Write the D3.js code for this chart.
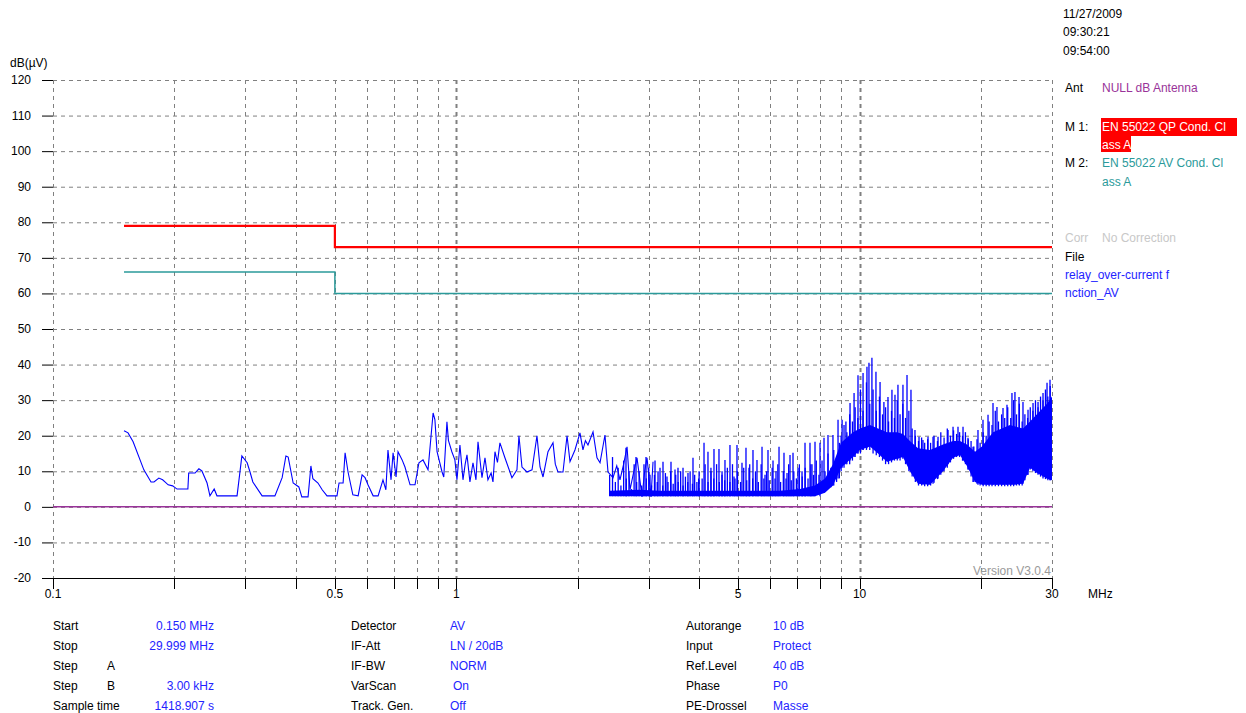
<!DOCTYPE html>
<html>
<head>
<meta charset="utf-8">
<script src="https://cdn.jsdelivr.net/npm/d3@7"></script>
<style>
  body { margin: 0; background: #fff; }
  svg text { font-family: "Liberation Sans", Arial, sans-serif; font-size: 12px; }
</style>
</head>
<body>
<div id="chart"></div>
<script>
// --- donnees ---
const yTicks = [-20, -10, 0, 10, 20, 30, 40, 50, 60, 70, 80, 90, 100, 110, 120];
const xGrid = [0.1, 0.2, 0.3, 0.4, 0.5, 0.6, 0.7, 0.8, 0.9, 1, 2, 3, 4, 5, 6, 7, 8, 9, 10, 20, 30];
const xLabels = [0.1, 0.5, 1, 5, 10, 30];

// limites EN 55022 classe A
const limitFreq = [0.15, 0.5, 0.5, 30];
const qpLevel = [79, 79, 73, 73];
const avLevel = [66, 66, 60, 60];

// trace mesuree (partie basse frequence)
const traceMHz = [0.15, 0.1535, 0.158, 0.168, 0.175, 0.178, 0.183, 0.187, 0.1895, 0.193, 0.198, 0.203, 0.216, 0.217, 0.225, 0.230, 0.234, 0.241, 0.245, 0.251, 0.255,
  0.286, 0.294, 0.303, 0.308, 0.313, 0.330, 0.355, 0.370, 0.378, 0.383, 0.394, 0.407, 0.414, 0.429, 0.436, 0.441, 0.454, 0.465, 0.478,
  0.506, 0.512, 0.524, 0.530, 0.539, 0.554, 0.571, 0.584, 0.594, 0.604, 0.622, 0.640, 0.658, 0.669, 0.677, 0.689, 0.697, 0.709, 0.717,
  0.734, 0.746, 0.768, 0.790, 0.808, 0.827, 0.851, 0.876, 0.885, 0.896, 0.922, 0.931, 0.948, 0.956, 0.975, 0.992, 1.004,
  1.021, 1.039, 1.052, 1.063, 1.081, 1.100, 1.119, 1.132, 1.158, 1.178, 1.198, 1.220, 1.233, 1.247, 1.265, 1.283, 1.320, 1.374, 1.414, 1.43, 1.455,
  1.497, 1.541, 1.585, 1.613, 1.641, 1.688, 1.737, 1.76, 1.787, 1.839, 1.882, 1.914, 1.969, 2.026, 2.061, 2.090, 2.121, 2.183, 2.233, 2.272,
  2.337, 2.378, 2.447, 2.50, 2.546, 2.60, 2.651, 2.696, 2.75, 2.806, 2.888, 2.93, 2.971, 3.04, 3.075];
const traceDb = [21.4, 20.8, 18.3, 10.4, 7, 7, 8.1, 7.6, 7, 6.2, 5.9, 5, 5, 9.5, 9.5, 10.7, 10.1, 6.7, 3.1, 5, 3.1,
  3.1, 14.3, 12.4, 9.8, 7, 3.1, 3.1, 8.2, 14.3, 14, 6.7, 5.6, 2.8, 2.8, 11.5, 7.9, 6.7, 4.8, 3.1,
  3.1, 6.7, 6.7, 15.2, 9.8, 3.4, 3.1, 9, 8.2, 6.2, 3.1, 3.1, 7.6, 4.8, 16, 7.6, 15.2, 8.4, 15.5,
  13.2, 11.2, 6.2, 6.2, 12.4, 13.2, 10.4, 26.4, 24.5, 15.5, 9.8, 8.4, 23.9, 18.7, 15.5, 13.2, 7.6,
  17.4, 7.6, 12, 14.6, 7, 12.4, 7.6, 18.3, 8.2, 13.8, 7.6, 9.5, 7, 15.5, 12.5, 18, 13.8, 8.2, 10.4, 20, 11.2,
  9.8, 10.4, 20, 11.2, 8.4, 15.5, 18, 12, 9.8, 9.8, 20, 12.7, 16, 20.8, 16, 18.6, 17.4, 21.1, 13.8, 12.4,
  20.2, 9.8, 8.2, 11.5, 7.6, 12, 16.9, 4.8, 9.5, 13.8, 2.8, 9.8, 13.8, 2.8, 12.7];

// bande dense (enveloppe basse / haute du bruit)
const bandMHz = [2.40, 2.855, 3.2, 3.587, 4.02, 4.506, 5.05, 5.664, 6.349, 7.117, 7.753, 8.208, 8.59, 8.995, 9.63, 10.02, 10.61, 11.11, 11.69,
  12.38, 12.81, 13.33, 13.96, 14.95, 16.1, 17.05, 17.74, 18.46, 19.33, 20.11, 21.42, 23.6, 25.42, 26.46, 27.53, 29.16, 29.999];
const bandLow = [3, 3, 3, 3, 3, 3, 3, 3, 3, 3, 3, 4, 6, 11, 14, 16, 17, 15, 12.7,
  13.5, 14, 10, 6.5, 6.2, 10, 13.8, 14.6, 11.5, 7, 6.2, 6.2, 6.2, 6.5, 11, 9.5, 8, 7.5];
const bandHigh = [4.5, 4.8, 4.5, 4.5, 4.5, 4.5, 4.5, 4.5, 4.5, 5, 6, 8, 12, 18, 21, 22, 23, 22, 21,
  21, 20.5, 18.5, 16.5, 16, 17.5, 18.5, 18.5, 17.5, 15.5, 17, 21, 23, 22, 24, 26, 29, 31];

// pics principaux (frequence, sommet, pied)
const spikeMHz = [2.635, 2.79, 2.954, 3.022, 3.11, 3.164, 3.255, 3.33, 3.407, 3.486, 3.546, 3.649, 3.754, 3.863, 3.99, 4.114, 4.208, 4.281,
  4.355, 4.481, 4.559, 4.637, 4.771, 4.882, 4.966, 5.11, 5.228, 5.318, 5.441, 5.567, 5.729, 5.828, 5.928, 6.1, 6.205, 6.313, 6.495, 6.608,
  6.722, 6.838, 7.036, 7.199, 7.323, 7.534, 7.621, 7.753, 7.977, 8.162, 8.35, 8.59, 8.842,
  9.05, 9.25, 9.47, 9.69, 9.91, 10.2, 10.43, 10.55, 10.73, 10.98, 11.24, 11.49, 11.76, 12.03, 12.24, 12.45, 12.81, 13.11, 13.41, 13.72,
  14.04, 14.36, 14.78, 15.21, 15.65, 16.1, 16.57, 17.05, 17.54, 18.05, 18.57, 19.11, 19.66, 20.23, 20.82, 21.42, 21.91, 22.68, 23.2,
  23.87, 24.28, 24.85, 25.42, 26.16, 26.92, 27.7, 28.5, 29.16, 29.66];
const spikeTop = [16.6, 14, 14, 9, 13, 10, 12.7, 8.5, 12.7, 10.5, 11, 11, 9.5, 13.8, 8, 18, 15.5, 10,
  16.3, 16.3, 9, 13.2, 17.4, 8.5, 17.4, 12.4, 16.6, 11, 16, 13.2, 16.9, 9, 16, 13, 10, 16.9, 15.2, 9.5,
  14.6, 15.2, 11, 10, 18, 18, 12, 18.3, 18, 19.4, 20.2, 20.2, 24.5,
  24.5, 24, 29.2, 32, 37, 37.6, 39.4, 40.5, 41.9, 38, 35.1, 29.5, 30.9, 32.9, 31.5, 34.3, 34.3, 37.1, 32.9, 21.6,
  19.7, 18.8, 19.7, 19.7, 19.7, 16, 21.6, 22.5, 22.5, 22.5, 19.4, 16.9, 21.6, 24.5, 25.9, 29.2, 28.1, 27.8, 28.7,
  32, 32.3, 30.9, 29.5, 27.3, 29.2, 29.5, 32, 34.9, 35.7];
const spikeBase = [3, 3, 3, 3, 3, 3, 3, 3, 3, 3, 3, 3, 3, 3, 3, 3, 3, 3,
  3, 3, 3, 3, 3, 3, 3, 3, 3, 3, 3, 3, 3, 3, 3, 3, 3, 3, 3, 3,
  3, 3, 3, 3, 3, 3, 3, 3, 3, 4, 5, 6, 8,
  11, 12, 13, 14, 15, 16, 16.5, 17, 17, 16, 15, 13.5, 12.7, 13, 13.5, 13.5, 14, 13, 10, 8,
  6.5, 6.2, 6.2, 6.5, 8, 10, 12, 13.8, 14.5, 13, 10.5, 7, 6.2, 6.2, 6.2, 6.2, 6.2, 6.2, 6.2,
  6.2, 6.2, 6.2, 6.5, 9, 11, 9.5, 8.5, 8, 7.5];

// bruit dense entre les pics principaux
const denseMHz = [2.40, 2.44, 2.48, 2.52, 2.56, 2.60, 2.64, 2.68, 2.72, 2.76, 2.80, 2.84, 2.88, 2.92, 2.96, 3.00, 3.05, 3.10, 3.15, 3.20,
  3.25, 3.30, 3.35, 3.40, 3.45, 3.50, 3.55, 3.60, 3.65, 3.70, 3.75, 3.80, 3.85, 3.90, 3.95, 4.00, 4.07, 4.14, 4.21, 4.28,
  4.35, 4.42, 4.49, 4.56, 4.63, 4.70, 4.77, 4.84, 4.91, 4.98, 5.07, 5.16, 5.25, 5.34, 5.43, 5.52, 5.61, 5.70, 5.79, 5.88,
  5.97, 6.07, 6.17, 6.27, 6.37, 6.47, 6.57, 6.67, 6.77, 6.87, 6.97, 7.09, 7.21, 7.33, 7.45, 7.57, 7.69, 7.81, 7.93, 8.07,
  8.21, 8.35, 8.49, 8.63, 8.77, 8.91,
  9.0, 9.15, 9.3, 9.45, 9.6, 9.75, 9.9, 10.05, 10.2, 10.4, 10.6, 10.8, 11.0, 11.2, 11.4, 11.6, 11.8, 12.0, 12.2, 12.4,
  12.6, 12.8, 13.0, 13.25, 13.5, 13.75, 14.0, 14.25, 14.5, 14.75, 15.0, 15.3, 15.6, 15.9, 16.2, 16.5, 16.8, 17.1, 17.4, 17.7,
  18.0, 18.3, 18.6, 18.9, 19.2, 19.55, 19.9, 20.25, 20.6, 20.95, 21.3, 21.7, 22.1, 22.5, 22.9, 23.3, 23.7, 24.1, 24.5, 24.9,
  25.3, 25.7, 26.1, 26.5, 26.9, 27.3, 27.7, 28.1, 28.5, 28.9, 29.3, 29.7];
const denseTop = [9, 14, 7, 11, 6, 13, 8, 10, 5, 12, 7, 10, 6, 12, 8, 11, 6, 9, 7, 11,
  6, 9.5, 7, 10, 6.5, 9, 7, 10, 6, 8.5, 7, 10, 6.5, 9, 7, 10, 8, 12, 7, 11,
  8, 12, 7, 10, 7.5, 11, 7, 12, 8, 10, 7, 11, 7.5, 12, 8, 10, 7, 12, 8, 10,
  7.5, 11, 8, 12, 7, 10, 8, 12, 7.5, 10, 8, 12, 8.5, 11, 8, 12, 9, 13, 9, 13,
  10, 15, 11, 16, 12, 18,
  20, 23, 21, 26, 24, 28, 25, 33, 27, 35, 29, 33, 27, 31, 26, 28, 24, 27, 25, 30,
  26, 29, 25, 27, 22, 20, 18.5, 19.5, 18, 19, 18, 20, 18.5, 21, 19.5, 22, 20, 21.5, 20.5, 21,
  20, 21, 19, 18.5, 17, 19, 18, 21, 20, 24, 23, 27, 24, 26, 25, 28, 25, 30, 26, 29,
  24, 26, 25, 28, 27, 30, 28, 31, 30, 33, 31, 34];
const denseBase = [3, 3, 3, 3, 3, 3, 3, 3, 3, 3, 3, 3, 3, 3, 3, 3, 3, 3, 3, 3,
  3, 3, 3, 3, 3, 3, 3, 3, 3, 3, 3, 3, 3, 3, 3, 3, 3, 3, 3, 3,
  3, 3, 3, 3, 3, 3, 3, 3, 3, 3, 3, 3, 3, 3, 3, 3, 3, 3, 3, 3,
  3, 3, 3, 3, 3, 3, 3, 3, 3, 3, 3, 3, 3, 3, 3, 3, 3, 3.5, 3.5, 4,
  4.5, 5, 5.5, 6, 7, 8,
  10, 11, 12, 12, 13, 14, 15, 15, 16, 16, 16, 15, 14.5, 14, 13, 12, 12, 12.5, 13, 13,
  13, 13.5, 12, 10, 8.5, 7, 6, 6, 5.8, 5.8, 6, 6.8, 7.8, 9, 10, 11, 12.5, 13.5, 14, 14,
  13, 12, 10.5, 8.5, 7, 6.5, 6, 5.8, 5.8, 5.8, 5.8, 5.8, 5.8, 5.8, 5.8, 5.8, 5.8, 5.8, 6, 6,
  6, 7.5, 9, 10.5, 10, 9.5, 9, 8.5, 8, 7.8, 7.5, 7.5];

// tableau des parametres
const col1Labels = ["Start", "Stop", "Step", "Step", "Sample time"];
const col1Sub = ["", "", "A", "B", ""];
const col1Values = ["0.150 MHz", "29.999 MHz", "", "3.00 kHz", "1418.907 s"];
const col2Labels = ["Detector", "IF-Att", "IF-BW", "VarScan", "Track. Gen."];
const col2Values = ["AV", "LN / 20dB", "NORM", "On", "Off"];
const col2Shift = [0, 0, 0, 3, 0];
const col3Labels = ["Autorange", "Input", "Ref.Level", "Phase", "PE-Drossel"];
const col3Values = ["10 dB", "Protect", "40 dB", "P0", "Masse"];

//svg
const W = 1246, H = 713;
const svg = d3.select("#chart").append("svg")
  .attr("width", W)
  .attr("height", H);
svg.append("rect").attr("width", W).attr("height", H).attr("fill", "#fff");

//echelles
const x = d3.scaleLog().domain([0.1, 30]).range([53, 1052]);
const y = d3.scaleLinear().domain([-20, 120]).range([578, 80]);

const blue = "#0000ff";
const valBlue = "#2323ff";

//grille horizontale
svg.append("g").selectAll("line")
  .data(yTicks.filter(d => d > -20))
  .enter().append("line")
  .attr("x1", x(0.1)).attr("x2", x(30))
  .attr("y1", d => y(d) + 0.5).attr("y2", d => y(d) + 0.5)
  .attr("stroke", "#808080")
  .attr("stroke-dasharray", "4,4");

//grille verticale
svg.append("g").selectAll("line")
  .data(xGrid)
  .enter().append("line")
  .attr("x1", d => Math.round(x(d)) + 0.5).attr("x2", d => Math.round(x(d)) + 0.5)
  .attr("y1", y(120)).attr("y2", y(-20))
  .attr("stroke", "#808080")
  .attr("stroke-width", d => (d === 1 || d === 10) ? 2 : 1)
  .attr("stroke-dasharray", "4,4");

//axe bas
svg.append("line")
  .attr("x1", 42).attr("x2", x(30))
  .attr("y1", y(-20) + 0.5).attr("y2", y(-20) + 0.5)
  .attr("stroke", "#000");
svg.append("g").selectAll("line")
  .data(xGrid)
  .enter().append("line")
  .attr("x1", d => Math.round(x(d)) + 0.5).attr("x2", d => Math.round(x(d)) + 0.5)
  .attr("y1", y(-20)).attr("y2", y(-20) + 11)
  .attr("stroke", "#000");
svg.append("g").selectAll("text")
  .data(xLabels)
  .enter().append("text")
  .attr("x", d => x(d))
  .attr("y", y(-20) + 20)
  .attr("text-anchor", "middle")
  .text(d => d);
svg.append("text").attr("x", 1088).attr("y", 598).text("MHz");

//axe gauche
svg.append("g").selectAll("line")
  .data(yTicks)
  .enter().append("line")
  .attr("x1", 42).attr("x2", x(0.1))
  .attr("y1", d => y(d) + 0.5).attr("y2", d => y(d) + 0.5)
  .attr("stroke", "#000");
svg.append("g").selectAll("text")
  .data(yTicks)
  .enter().append("text")
  .attr("x", 31)
  .attr("y", d => y(d) + 4)
  .attr("text-anchor", "end")
  .text(d => d);
svg.append("text").attr("x", 10).attr("y", 67).text("dB(\u00b5V)");

svg.append("text")
  .attr("x", 1051).attr("y", 575)
  .attr("text-anchor", "end")
  .attr("fill", "#9a9a9a")
  .text("Version V3.0.4");

//ligne 0 dB (antenne)
svg.append("line")
  .attr("x1", x(0.1)).attr("x2", x(30))
  .attr("y1", y(0)).attr("y2", y(0))
  .attr("stroke", "#993399")
  .attr("stroke-width", 1.5);

//limites
const limLine = d3.line().x((d, i) => x(limitFreq[i])).y(d => y(d));
svg.append("path").attr("d", limLine(avLevel))
  .attr("fill", "none").attr("stroke", "#2b9a9a").attr("stroke-width", 1.5);
svg.append("path").attr("d", limLine(qpLevel))
  .attr("fill", "none").attr("stroke", "#ff0000").attr("stroke-width", 2.2);

//trace
const traceLine = d3.line().x((d, i) => x(traceMHz[i])).y(d => y(d));
svg.append("path").attr("d", traceLine(traceDb))
  .attr("fill", "none").attr("stroke", blue).attr("stroke-width", 1.1);

const band = d3.area()
  .x((d, i) => x(bandMHz[i]))
  .y0((d, i) => y(bandLow[i]))
  .y1((d, i) => y(bandHigh[i]));
svg.append("path").attr("d", band(bandMHz)).attr("fill", blue);

//bruit dense: traits verticaux pied -> sommet
svg.append("g").selectAll("line")
  .data(denseMHz)
  .enter().append("line")
  .attr("x1", d => x(d)).attr("x2", d => x(d))
  .attr("y1", (d, i) => y(denseBase[i]))
  .attr("y2", (d, i) => y(denseTop[i]))
  .attr("stroke", blue)
  .attr("stroke-width", 1.3);

svg.append("g").selectAll("line")
  .data(spikeMHz)
  .enter().append("line")
  .attr("x1", d => x(d)).attr("x2", d => x(d))
  .attr("y1", (d, i) => y(spikeBase[i]))
  .attr("y2", (d, i) => y(spikeTop[i]))
  .attr("stroke", blue)
  .attr("stroke-width", 1.3);

//panneau de droite
const px = 1065, pv = 1102;
svg.append("text").attr("x", 1063).attr("y", 18).text("11/27/2009");
svg.append("text").attr("x", 1063).attr("y", 36).text("09:30:21");
svg.append("text").attr("x", 1063).attr("y", 55).text("09:54:00");
svg.append("text").attr("x", px).attr("y", 92).text("Ant");
svg.append("text").attr("x", pv).attr("y", 92).attr("fill", "#993399").text("NULL dB Antenna");

svg.append("text").attr("x", px).attr("y", 131).text("M 1:");
svg.append("rect").attr("x", 1101).attr("y", 118).attr("width", 136).attr("height", 18).attr("fill", "#ff0000");
svg.append("rect").attr("x", 1101).attr("y", 136).attr("width", 30).attr("height", 16).attr("fill", "#ff0000");
svg.append("text").attr("x", pv).attr("y", 131).attr("fill", "#fff").text("EN 55022 QP Cond. Cl");
svg.append("text").attr("x", pv).attr("y", 149).attr("fill", "#fff").text("ass A");

svg.append("text").attr("x", px).attr("y", 167).text("M 2:");
svg.append("text").attr("x", pv).attr("y", 167).attr("fill", "#2b9a9a").text("EN 55022 AV Cond. Cl");
svg.append("text").attr("x", pv).attr("y", 186).attr("fill", "#2b9a9a").text("ass A");

svg.append("text").attr("x", px).attr("y", 242).attr("fill", "#c8c8c8").text("Corr");
svg.append("text").attr("x", pv).attr("y", 242).attr("fill", "#c8c8c8").text("No Correction");
svg.append("text").attr("x", px).attr("y", 261).text("File");
svg.append("text").attr("x", px).attr("y", 279).attr("fill", valBlue).text("relay_over-current f");
svg.append("text").attr("x", px).attr("y", 297).attr("fill", valBlue).text("nction_AV");

//tableau en bas
const rowY = i => 630 + i * 20;
const table = svg.append("g");
col1Labels.forEach((t, i) => {
  table.append("text").attr("x", 53).attr("y", rowY(i)).text(t);
  table.append("text").attr("x", 107).attr("y", rowY(i)).text(col1Sub[i]);
  table.append("text").attr("x", 214).attr("y", rowY(i)).attr("text-anchor", "end").attr("fill", valBlue).text(col1Values[i]);
});
col2Labels.forEach((t, i) => {
  table.append("text").attr("x", 351).attr("y", rowY(i)).text(t);
  table.append("text").attr("x", 450 + col2Shift[i]).attr("y", rowY(i)).attr("fill", valBlue).text(col2Values[i]);
});
col3Labels.forEach((t, i) => {
  table.append("text").attr("x", 686).attr("y", rowY(i)).text(t);
  table.append("text").attr("x", 773).attr("y", rowY(i)).attr("fill", valBlue).text(col3Values[i]);
});
</script>
</body>
</html>
